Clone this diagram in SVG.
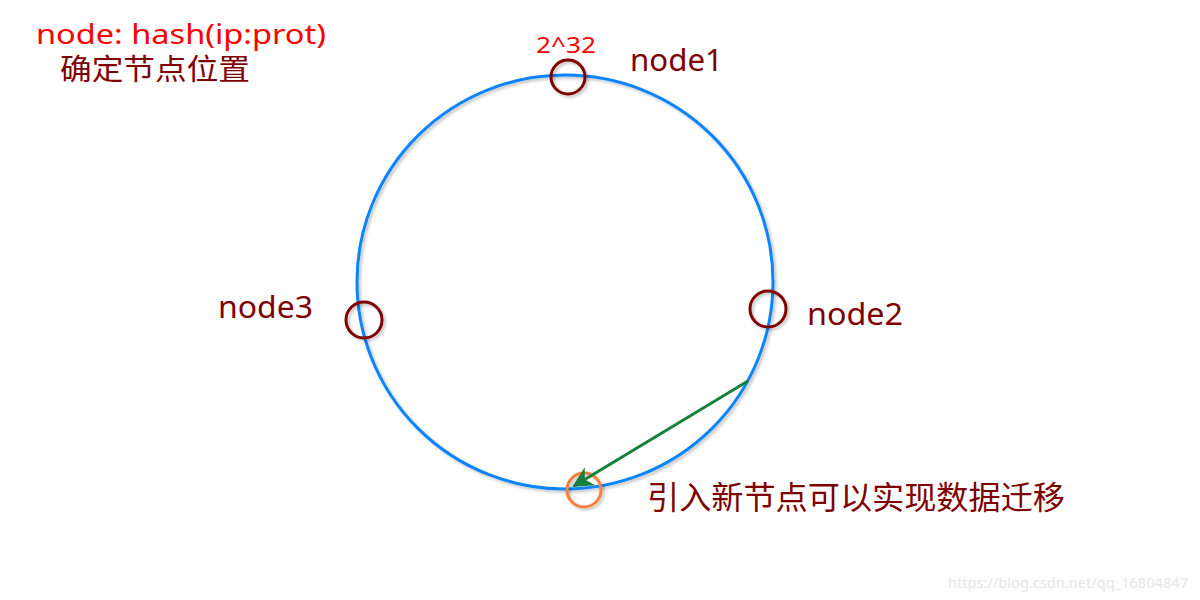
<svg xmlns="http://www.w3.org/2000/svg" width="1200" height="600" viewBox="0 0 1200 600">
<defs>
<filter id="sh" x="-20%" y="-20%" width="140%" height="140%">
<feDropShadow dx="2" dy="2" stdDeviation="1.5" flood-color="#000" flood-opacity="0.25"/>
</filter>
<marker id="ah" viewBox="0 0 10 10" refX="9" refY="5" markerWidth="7" markerHeight="7" orient="auto" markerUnits="strokeWidth">
<path d="M0,0 L10,5 L0,10 L3,5 Z" fill="#17803a"/>
</marker>
</defs>
<style>
.t{font-family:"Microsoft YaHei","Noto Sans","Noto Sans CJK SC",sans-serif;}
.red{fill:#ff0000;}
.dr{fill:#7f0000;}
.ring{fill:none;stroke:#0a84ff;stroke-width:3;}
.node{fill:none;stroke:#7f0000;stroke-width:3;}
.new{fill:none;stroke:#f5803e;stroke-width:3;}
</style>
<rect width="1200" height="600" fill="#fff"/>
<g id="ring"><ellipse cx="565" cy="282" rx="208" ry="207" class="ring" filter="url(#sh)"/></g>
<g id="node1"><circle cx="568" cy="77" r="17" class="node" filter="url(#sh)"/><text x="630" y="71" font-size="30" textLength="93" lengthAdjust="spacingAndGlyphs" class="t dr">node1</text></g>
<g id="top-label"><text x="536" y="53" font-size="22" textLength="60" lengthAdjust="spacingAndGlyphs" class="t red">2^32</text></g>
<g id="node2"><circle cx="768" cy="309" r="18" class="node" filter="url(#sh)"/><text x="807" y="325" font-size="30" textLength="96" lengthAdjust="spacingAndGlyphs" class="t dr">node2</text></g>
<g id="node3"><circle cx="364" cy="320" r="18" class="node" filter="url(#sh)"/><text x="218" y="318" font-size="30" textLength="95" lengthAdjust="spacingAndGlyphs" class="t dr">node3</text></g>
<g id="newnode"><circle cx="584" cy="490" r="17" class="new" filter="url(#sh)"/><text x="647" y="509" font-size="32" textLength="418" lengthAdjust="spacingAndGlyphs" class="t dr">引入新节点可以实现数据迁移</text></g>
<g id="connectors"><line x1="748" y1="381" x2="574" y2="486" stroke="#17803a" stroke-width="3" marker-end="url(#ah)"/></g>
<g id="title"><text x="36" y="44" font-size="28" textLength="290" lengthAdjust="spacingAndGlyphs" class="t red">node: hash(ip:prot)</text><text x="60" y="80" font-size="29" textLength="190" lengthAdjust="spacingAndGlyphs" class="t dr">确定节点位置</text></g>
<g id="watermark"><text x="948" y="588" font-size="14" textLength="240" lengthAdjust="spacingAndGlyphs" fill="#e6e6e6" class="t">https://blog.csdn.net/qq_16804847</text></g>
</svg>
